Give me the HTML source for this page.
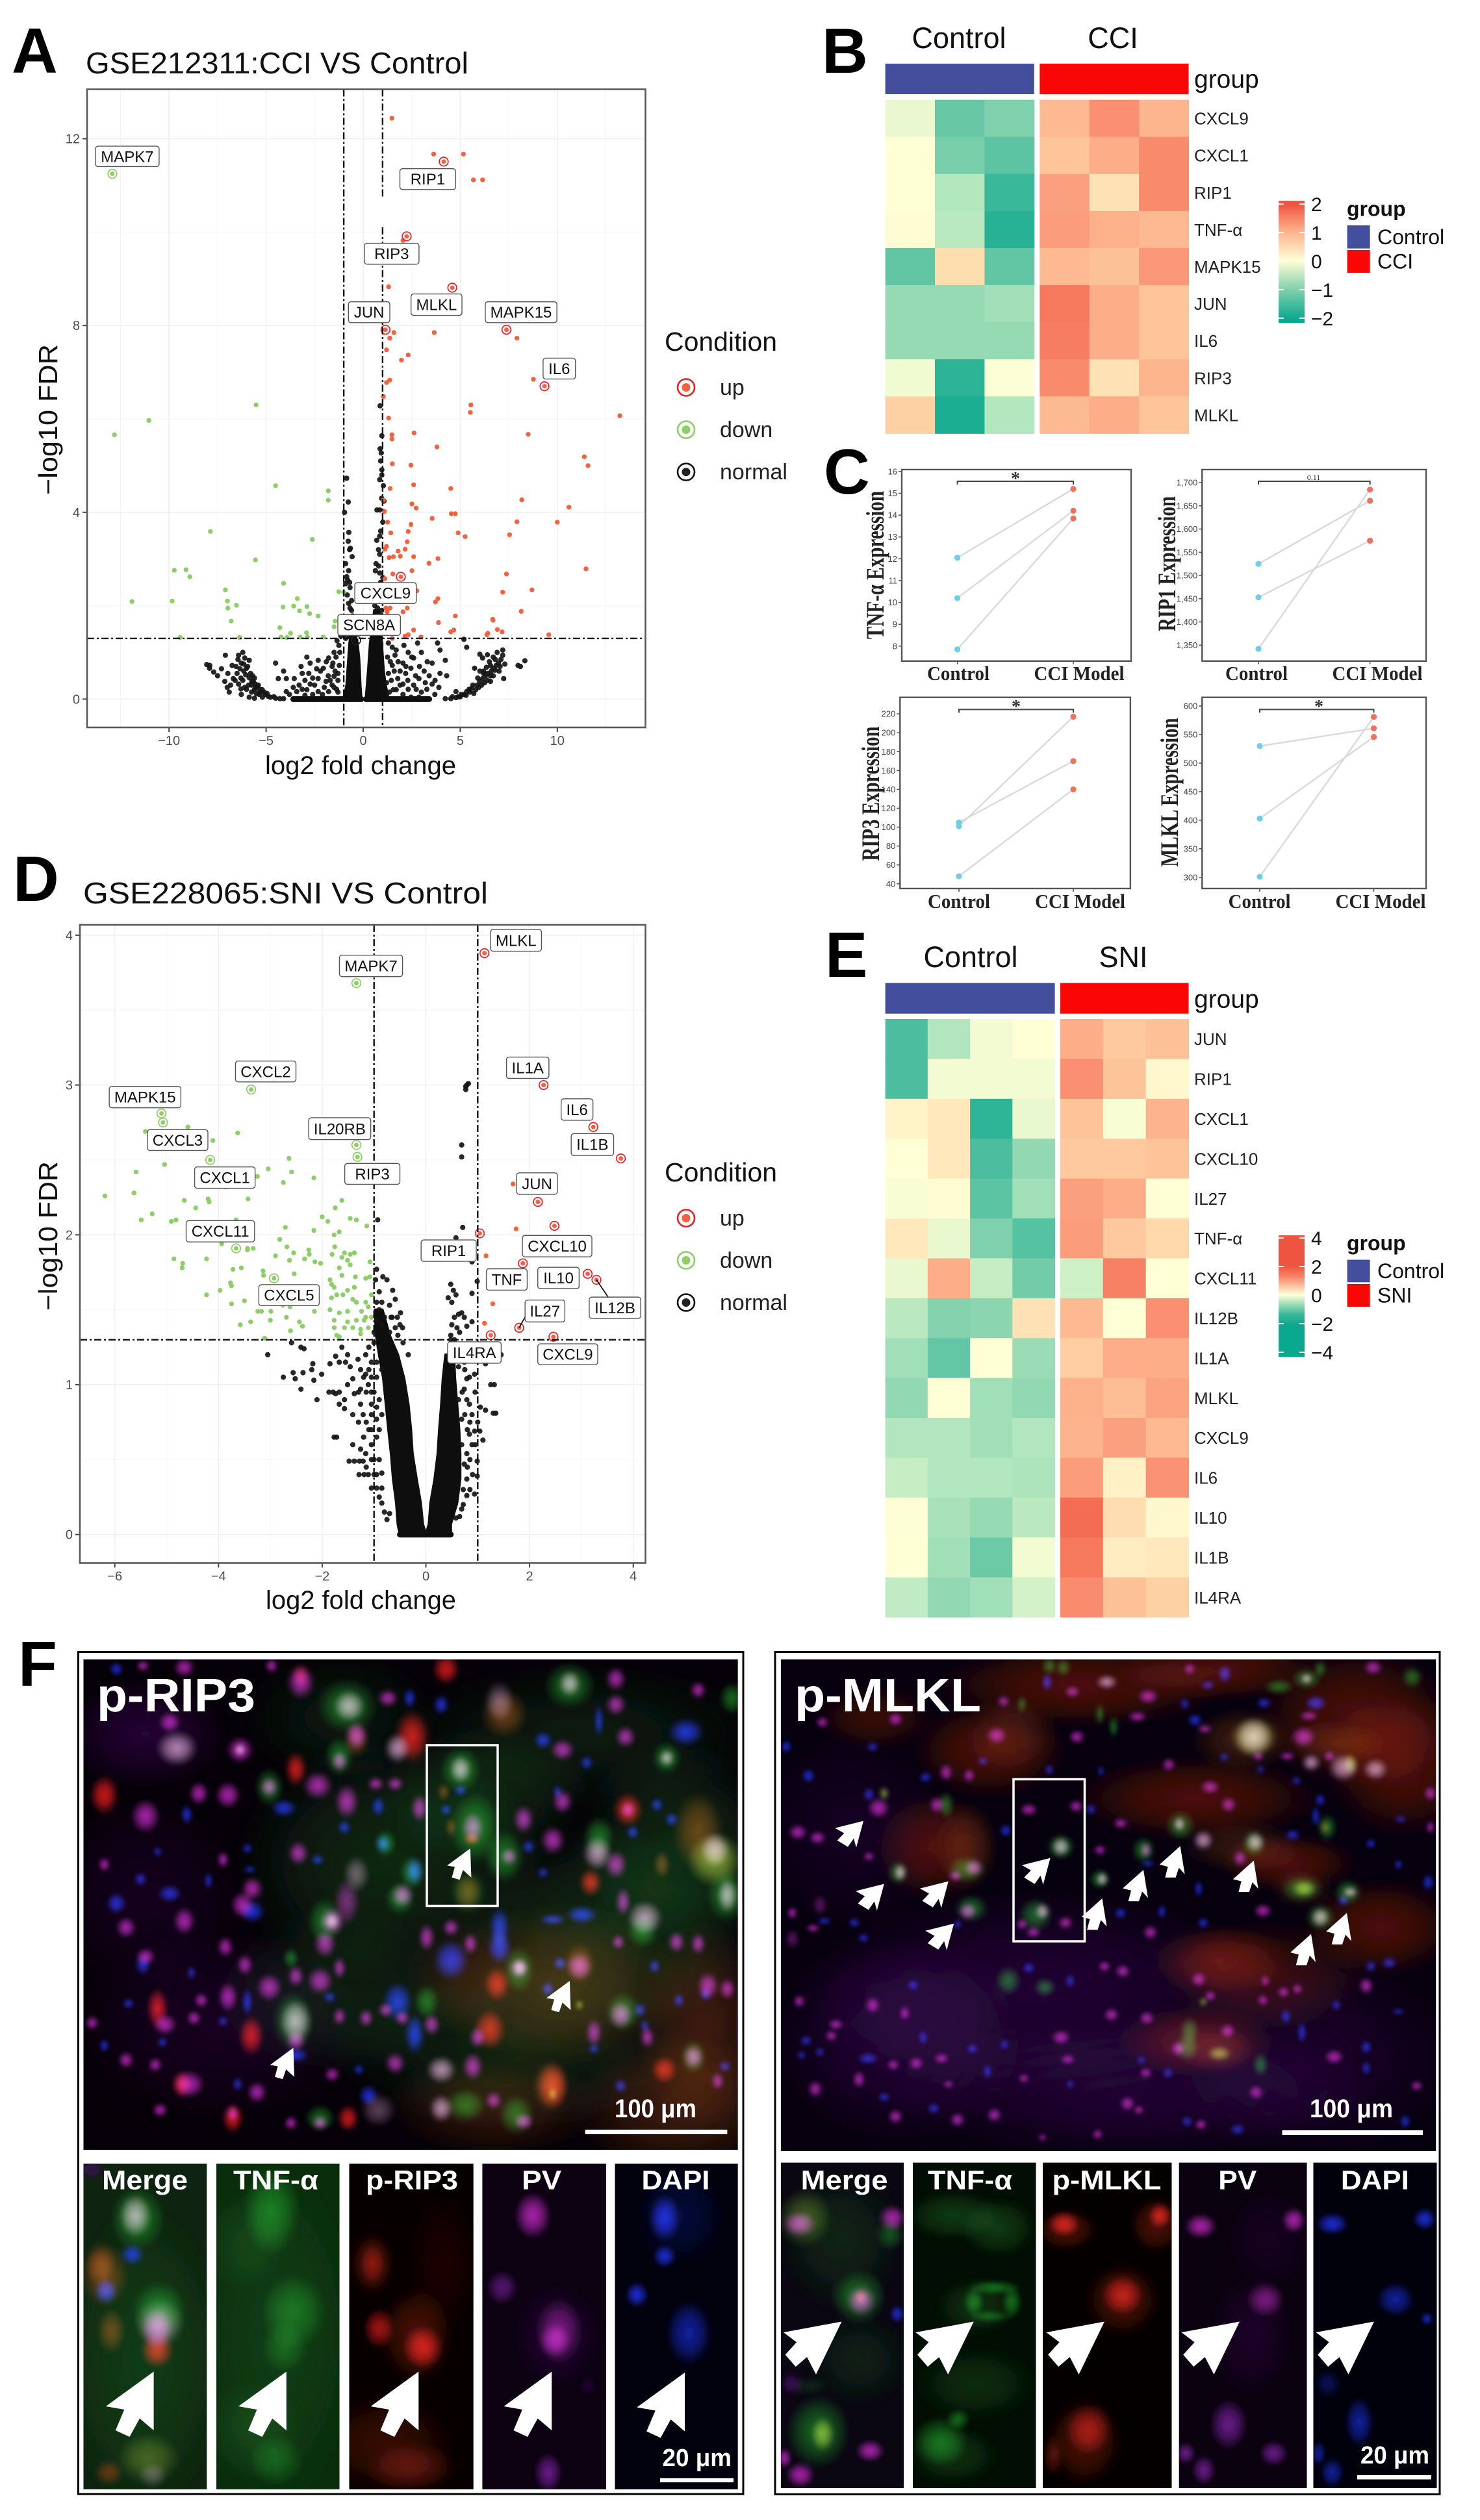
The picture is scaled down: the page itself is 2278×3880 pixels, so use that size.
<!DOCTYPE html>
<html lang="en">
<head>
<meta charset="utf-8">
<title>Volcano plots, heatmaps, paired plots and immunofluorescence</title>
<style>
html,body{margin:0;padding:0;background:#fff;}
svg{display:block;font-family:"Liberation Sans",sans-serif;}
.letter{font-weight:700;font-size:98px;fill:#000;}
.serif{font-family:"Liberation Serif",serif;font-weight:700;fill:#222;}
.wt{fill:#fff;font-weight:700;}
</style>
</head>
<body>
<svg id="fig" xmlns="http://www.w3.org/2000/svg" width="2278" height="3880" viewBox="0 0 2278 3880">
<defs id="defs"><filter id="soft" x="-5%" y="-5%" width="110%" height="110%"><feGaussianBlur stdDeviation="3"/></filter></defs>
<rect width="2278" height="3880" fill="#fff"/>

<text class="letter" x="18" y="112">A</text>
<text class="letter" x="1265" y="112">B</text>
<text class="letter" x="1268" y="760">C</text>
<text class="letter" x="20" y="1387">D</text>
<text class="letter" x="1270" y="1504">E</text>
<text class="letter" x="28" y="2596">F</text>

<text x="132" y="113" font-size="46" textLength="589" lengthAdjust="spacingAndGlyphs" fill="#111">GSE212311:CCI VS Control</text>
<text x="408" y="1192" font-size="40" textLength="294" lengthAdjust="spacingAndGlyphs" fill="#111">log2 fold change</text>
<text transform="translate(88,646) rotate(-90)" text-anchor="middle" font-size="41" textLength="232" lengthAdjust="spacingAndGlyphs" fill="#111">−log10 FDR</text>
<g>
<text x="1023" y="540" font-size="41" textLength="173" lengthAdjust="spacingAndGlyphs" fill="#111">Condition</text>
<circle cx="1056" cy="596.5" r="13" fill="none" stroke="#e8202a" stroke-width="2.6"/><circle cx="1056" cy="596.5" r="6.5" fill="#f4623f"/>
<text x="1108" y="608" font-size="34" fill="#222">up</text>
<circle cx="1056" cy="661.6" r="13" fill="none" stroke="#8ccf66" stroke-width="2.6"/><circle cx="1056" cy="661.6" r="6.5" fill="#8ccf66"/>
<text x="1108" y="673" font-size="34" fill="#222">down</text>
<circle cx="1056" cy="726.7" r="13" fill="none" stroke="#111" stroke-width="2.6"/><circle cx="1056" cy="726.7" r="6.5" fill="#222"/>
<text x="1108" y="738" font-size="34" fill="#222">normal</text>
</g>

<text x="128" y="1391" font-size="46" textLength="623" lengthAdjust="spacingAndGlyphs" fill="#111">GSE228065:SNI VS Control</text>
<text x="409" y="2477" font-size="40" textLength="293" lengthAdjust="spacingAndGlyphs" fill="#111">log2 fold change</text>
<text transform="translate(88,1903) rotate(-90)" text-anchor="middle" font-size="41" textLength="230" lengthAdjust="spacingAndGlyphs" fill="#111">−log10 FDR</text>
<g>
<text x="1023" y="1819" font-size="41" textLength="173" lengthAdjust="spacingAndGlyphs" fill="#111">Condition</text>
<circle cx="1056" cy="1875.5" r="13" fill="none" stroke="#e8202a" stroke-width="2.6"/><circle cx="1056" cy="1875.5" r="6.5" fill="#f4623f"/>
<text x="1108" y="1887" font-size="34" fill="#222">up</text>
<circle cx="1056" cy="1940.5" r="13" fill="none" stroke="#8ccf66" stroke-width="2.6"/><circle cx="1056" cy="1940.5" r="6.5" fill="#8ccf66"/>
<text x="1108" y="1952" font-size="34" fill="#222">down</text>
<circle cx="1056" cy="2005.5" r="13" fill="none" stroke="#111" stroke-width="2.6"/><circle cx="1056" cy="2005.5" r="6.5" fill="#222"/>
<text x="1108" y="2017" font-size="34" fill="#222">normal</text>
</g>

<text x="1476" y="74" text-anchor="middle" font-size="45" fill="#111">Control</text>
<text x="1713" y="74" text-anchor="middle" font-size="45" fill="#111">CCI</text>
<text x="1494" y="1489" text-anchor="middle" font-size="45" fill="#111">Control</text>
<text x="1729" y="1489" text-anchor="middle" font-size="45" fill="#111">SNI</text>

<g id="volcA"></g>
<g id="volcD"></g>
<g id="heatB"></g>
<g id="heatE"></g>
<g id="pairC"></g>

<rect x="120.5" y="2543.5" width="1023.5" height="1296.5" fill="#fff" stroke="#000" stroke-width="3"/>
<rect x="1193" y="2543.5" width="1023" height="1297" fill="#fff" stroke="#000" stroke-width="3"/>
<g id="micro"></g>
<g id="overlay">
<rect x="657" y="2687" width="109" height="247.5" fill="none" stroke="#fff" stroke-width="3.5"/>
<rect x="1560" y="2739.5" width="109.5" height="249.5" fill="none" stroke="#fff" stroke-width="3.5"/>
<text class="wt" x="149" y="2635" font-size="72" textLength="244" lengthAdjust="spacingAndGlyphs">p-RIP3</text>
<text class="wt" x="1223" y="2635" font-size="72" textLength="287" lengthAdjust="spacingAndGlyphs">p-MLKL</text>
<text class="wt" x="946" y="3260" font-size="40" textLength="126" lengthAdjust="spacingAndGlyphs">100 μm</text>
<rect x="900.7" y="3279" width="218.7" height="7" fill="#fff"/>
<text class="wt" x="2016" y="3260" font-size="40" textLength="128" lengthAdjust="spacingAndGlyphs">100 μm</text>
<rect x="1973.5" y="3280" width="216.5" height="7" fill="#fff"/>
<text class="wt" x="223" y="3371" text-anchor="middle" font-size="42" textLength="132" lengthAdjust="spacingAndGlyphs">Merge</text>
<text class="wt" x="424.5" y="3371" text-anchor="middle" font-size="42" textLength="131" lengthAdjust="spacingAndGlyphs">TNF-α</text>
<text class="wt" x="634" y="3371" text-anchor="middle" font-size="42" textLength="142" lengthAdjust="spacingAndGlyphs">p-RIP3</text>
<text class="wt" x="833.6" y="3371" text-anchor="middle" font-size="42" textLength="61" lengthAdjust="spacingAndGlyphs">PV</text>
<text class="wt" x="1040" y="3371" text-anchor="middle" font-size="42" textLength="105" lengthAdjust="spacingAndGlyphs">DAPI</text>
<text class="wt" x="1299.6" y="3371" text-anchor="middle" font-size="42" textLength="134" lengthAdjust="spacingAndGlyphs">Merge</text>
<text class="wt" x="1493" y="3371" text-anchor="middle" font-size="42" textLength="130" lengthAdjust="spacingAndGlyphs">TNF-α</text>
<text class="wt" x="1703.5" y="3371" text-anchor="middle" font-size="42" textLength="168" lengthAdjust="spacingAndGlyphs">p-MLKL</text>
<text class="wt" x="1904.8" y="3371" text-anchor="middle" font-size="42" textLength="59" lengthAdjust="spacingAndGlyphs">PV</text>
<text class="wt" x="2116.4" y="3371" text-anchor="middle" font-size="42" textLength="105" lengthAdjust="spacingAndGlyphs">DAPI</text>
<text class="wt" x="1019.5" y="3797" font-size="38" textLength="106.5" lengthAdjust="spacingAndGlyphs">20 μm</text>
<rect x="1016" y="3815.5" width="113" height="6.5" fill="#fff"/>
<text class="wt" x="2094" y="3793" font-size="38" textLength="106" lengthAdjust="spacingAndGlyphs">20 μm</text>
<rect x="2089" y="3811" width="114" height="6.5" fill="#fff"/>
</g>
</svg>

<script>
/* ---------- Panel A data: [log2FC, -log10 FDR] ---------- */
const aUp=[[1.48,12.44],[3.63,11.67],[5.16,11.67],[5.68,11.12],[6.15,11.12],[2.05,9.82],[1.31,8.83],[1.58,7.85],[1.37,7.73],[3.66,7.85],[7.92,7.73],[2.32,7.37],[1.97,7.26],[1.2,7.48],[1.37,6.83],[1.2,6.78],[8.77,6.85],[1.04,6.48],[5.55,6.3],[5.52,6.14],[13.22,6.07],[1.31,6.02],[2.62,5.7],[1.48,5.66],[1.48,5.57],[8.5,5.67],[3.8,5.4],[11.39,5.19],[11.58,5],[1.5,5.04],[2.46,5.01],[2.6,4.59],[1.39,4.51],[4.51,4.51],[1.04,4.26],[8.17,4.27],[2.51,4.18],[2.73,4.09],[10.6,4.11],[1.09,4.02],[4.54,3.97],[4.75,3.97],[3.55,3.87],[1.26,3.79],[7.92,3.8],[2.46,3.74],[10,3.79],[1.42,3.56],[4.89,3.56],[5.25,3.48],[2.32,3.59],[7.54,3.52],[1.2,3.27],[2.27,3.37],[2.16,3.21],[1.12,3.21],[1.8,3.17],[1.91,3.06],[1.56,3.05],[1.34,3.03],[2.6,3.05],[3.85,3.01],[3.39,2.91],[11.48,2.79],[2.51,2.75],[1.53,2.68],[7.38,2.68],[1.12,2.58],[8.69,2.34],[7.19,2.29],[2.76,2.32],[3.85,2.15],[3.72,2.08],[2.27,1.95],[2.05,1.87],[1.39,1.95],[1.17,1.95],[1.23,1.87],[8.14,1.88],[4.75,1.78],[6.67,1.71],[6.69,1.69],[3.88,1.64],[4.67,1.48],[4.51,1.44],[2.6,1.48],[6.91,1.49],[7.16,1.44],[6.42,1.41],[6.37,1.38],[9.56,1.38],[2.98,1.33],[2.32,1.38],[2.16,1.35],[1.5,1.3]];
const aDown=[[-5.52,6.3],[-11.04,5.97],[-12.81,5.66],[-4.51,4.57],[-1.8,4.46],[-1.8,4.26],[-7.87,3.59],[-2.62,3.42],[-5.55,2.98],[-9.73,2.76],[-9.13,2.77],[-8.93,2.62],[-4.1,2.48],[-7.1,2.34],[-1.26,2.3],[-1.01,2.29],[-6.99,2.1],[-9.84,2.1],[-11.91,2.09],[-6.53,2.01],[-6.97,1.95],[-3.39,2.15],[-3.58,1.99],[-4.13,1.97],[-3.28,1.89],[-2.9,1.98],[-2.76,1.83],[-2.32,1.78],[-6.8,1.67],[-1.45,1.67],[-1.5,1.55],[-4.29,1.53],[-3.74,1.41],[-2.92,1.42],[-4.23,1.33],[-3.93,1.32],[-3.25,1.33],[-2.87,1.33],[-2.05,1.33],[-9.43,1.32],[-6.37,1.32],[-.82,1.74]];
const aNormal=[[-.85,4.73],[-.77,4.22],[-.96,4],[-.74,3.57],[-.77,3.38],[-.66,3.23],[-.57,3.05],[-.85,2.62],[-.9,2.47],[-.68,2.39],[-.82,2.23],[-.6,2.11],[-.68,1.95],[-.55,1.78],[-.82,1.47],[-.68,1.67],[-.75,2.75],[-.8,2.55],[-.6,1.5],[-.7,1.35],[-.7,1.6],[-.5,1.55],[-.9,1.3],[-.6,1.9],[-.75,2.05],[-.7,2.5],[-.9,2.9],[-.7,3.2],
[.87,6.28],[.96,5.64],[.87,5.36],[.93,5.27],[.96,4.91],[.96,4.8],[1.04,4.57],[1.07,4.24],[.71,4.05],[.85,4.05],[1.01,3.79],[.85,3.49],[.79,3.2],[.85,3.1],[.66,2.9],[.63,2.75],[.85,2.7],[1.01,2.6],[.96,2.11],[.74,1.95],[.55,1.67],[.9,2.4],[.8,2.3],[.85,1.8],[.7,1.7],[.85,1.6],[.6,2],[.75,2.25],[.9,2.5],[.8,2.85],[.7,3.4],[.9,3.6],[.95,4.3],[.85,4.7],[.9,5.1],[.6,1.5],[.95,1.9],[.7,2.4],
[-4.51,.02],[-4.78,.04],[-5.05,.1],[-5.33,.21],[-5.55,.32],[-5.87,.46],[-6.15,.6],[-6.28,.77],[-6.42,.94],[-6.2,1],[-5.87,.83],[-6.01,.66],[-5.74,.38],[-6.01,.21],[-6.42,.32],[-6.69,.44],[-6.97,.55],[-7.1,.94],[-6.75,.72],[-7.13,.38],[-6.83,.3],[-8.06,.74],[-7.92,.66],[-7.7,.58],[-6.28,.1],[-5.87,.04],[-5.6,.02],[-4.1,.01],[-4.29,.01],[-5.19,.04],[-5.46,.27],[-5.66,.38],[-5.8,.55],[-5.95,.7],[-6.1,.88],[-5.3,.15],[-5.6,.2],[-5.9,.3],[-6.2,.4],[-6.5,.55],[-4.9,.06],[-5.1,.15],[-5.4,.3],[-5.7,.5],[-4.6,.05],[-4.95,.12],[-5.2,.2],[-5.35,.1],[-5.5,.12],[-5.75,.15],[-5.55,.25],[-5.75,.3],[-5.6,.45],[-6.1,.25],[-6.3,.22],[-6.3,.45],[-6.05,.52],[-6.6,.4],[-6.35,.65],[-6.55,.7],[-6.15,.75],[-6.45,.85],[-7,.25],[-7.5,.5],[-7.3,.65],[-7.9,.72],[-6.9,.15],
[4.23,.01],[4.51,.01],[4.78,.03],[5.05,.1],[5.33,.16],[5.6,.23],[5.87,.3],[6.15,.44],[6.42,.55],[6.69,.66],[6.97,.77],[7.19,.94],[7.19,1.05],[6.56,.72],[6.2,.55],[6.01,.6],[5.74,.66],[6.15,.88],[6.01,.96],[6.56,.38],[7.24,.44],[7.98,.72],[8.33,.82],[5.46,.21],[4.78,.16],[5.19,1.28],[5.33,1.11],[3.83,1.2],[3.96,1.05],[4.23,.83],[3.55,.77],[5.2,.1],[5.5,.15],[5.8,.2],[6.1,.3],[6.4,.4],[6.7,.5],[7,.6],[5.9,.45],[6.2,.6],[6.5,.8],[6.8,.85],[4.9,.05],[4.6,.05],[5,.05],[5.3,.08],[5.5,.2],[5.7,.12],[5.65,.3],[5.95,.25],[6,.38],[6.25,.35],[6.3,.5],[6.55,.5],[6.6,.6],[6.35,.68],[6.8,.62],[6.85,.72],[7.05,.7],[7.1,.85],[6.7,.9],[6.4,.95],[6.9,1],[7.3,.75],[8.1,.7],
[-4.51,.77],[-4.37,.44],[-3.96,.44],[-3.55,.44],[-3.14,.55],[-2.73,.77],[-2.32,.83],[-2.05,.66],[-1.78,.88],[-1.5,1],[-1.56,.77],[-2.32,.44],[-1.91,.38],[-1.5,.49],[-1.23,.72],[-2.73,.32],[-3.14,.21],[-3.42,.16],[-3.96,.16],[-2.32,.16],[-1.78,.16],[-1.37,.21],[-1.6,.3],[-1.3,.4],[-1.45,.6],[-2.6,.1],[-3,.08],[-1.2,1],[-3.3,.3],[-3,.4],[-2.8,.55],[-2.5,.3],[-2.2,.6],[-2,.25],[-1.8,.5],[-1.6,.7],[-1.4,.9],[-1.3,.55],[-1.9,.8],[-2.4,.65],[-2.6,.45],[-3.6,.25],[-3.8,.1],[-2.9,.2],[-2.1,.1],[-1.5,.25],[-1.3,.15],[-1.7,.4],[-3.2,.7],[-2.9,.9],[-4.1,.6],[-1.25,1.15],[-1.35,1.25],[-1.15,1.35],
[2.32,1],[2.6,.88],[2.46,.66],[2.05,.77],[1.64,.94],[1.5,1.11],[2.19,.55],[2.87,.44],[3.14,.6],[3.55,.32],[3.96,.55],[3.28,.21],[2.73,.21],[2.05,.32],[2.32,.21],[1.78,.44],[3,1],[1.5,.72],[3.69,.1],[2.87,.04],[2.05,.1],[2.46,.04],[1.7,.2],[1.9,.6],[2.3,.4],[1.3,1.2],[1.25,.9],[1.4,.8],[1.6,.6],[1.8,.8],[1.9,.3],[2.2,.7],[2.5,.9],[2.7,.5],[2.9,.7],[3.2,.35],[3.4,.5],[3.7,.4],[3.9,.25],[3,.15],[2.6,.3],[1.45,.4],[1.55,.2],[1.3,.55],[1.7,1.05],[2.1,1.15],[2.8,1.2],[4.3,.5],[3.3,.8],[1.2,.35],[1.35,.15]];
const aLabeledUp=[['RIP1',4.15,11.51],['RIP3',2.24,9.91],['MLKL',4.59,8.81],['JUN',1.15,7.91],['MAPK15',7.38,7.91],['IL6',9.34,6.7],['CXCL9',1.94,2.62]];
const aLabeledDown=[['MAPK7',-12.92,11.25]];
const aLabeledNormal=[['SCN8A',-.36,1.26]];
const aDenseLevels=[0,.3,.6,.9,1.2,1.5];
const aDenseLeftOuter=[-1,-.85,-.8,-.75,-.7,-.6];
const aDenseLeftInner=[-.1,-.15,-.18,-.22,-.3,-.48];
const aDenseRightLevels=[0,.3,.6,.9,1.2,1.5,1.9];
const aDenseRightInner=[.14,.2,.26,.31,.36,.46,.58];
const aDenseRightOuter=[1.3,1.15,1.05,1,.95,.92,.8];
const aBaseRanges=[[-3.6,-.1],[.15,3.4]];
const aXTicks=[-10,-5,0,5,10];
const aYTicks=[0,4,8,12];
const aXMinor=[-12.5,-7.5,-2.5,2.5,7.5,12.5];
const aYMinor=[2,6,10];
const aCutoffX=[-1,1];
const aCutoffY=1.3;
const aLabelLayout=[['MAPK7',180,300,280,319],['RIP1',754,859,323,363],['RIP3',687,790,466,506],['MLKL',775,871,563,604],['JUN',657,735,578,618],['MAPK15',915,1050,578,618],['IL6',1024,1085,686,726],['CXCL9',669,785,1116,1156],['SCN8A',637,755,1177,1217]];

/* ---------- Panel D data ---------- */
const dUp=[[1.68,2.34],[1.74,2.04],[1.16,1.86],[1.29,1.54],[1.13,1.41]];
const dDown=[[-5.41,2.69],[-4.59,2.72],[-3.63,2.68],[-4.11,2.63],[-2.64,2.51],[-5.04,2.47],[-3.04,2.44],[-2.59,2.42],[-5.59,2.42],[-2.16,2.38],[-2.75,2.35],[-3.25,2.39],[-3.87,2.32],[-5.63,2.28],[-6.19,2.26],[-4.2,2.24],[-3.43,2.24],[-4.66,2.23],[-4.18,2.22],[-1.62,2.23],[-4.44,2.18],[-5.28,2.14],[-1.75,2.18],[-2,2.12],[-4.82,2.1],[-4.91,2.09],[-5.49,2.1],[-1.46,2.11],[-1.34,2.1],[-1.89,2.09],[-2.71,2.05],[-2.16,2.03],[-1.14,2.06],[-1.67,2.02],[-3.66,2.1],[-3.94,1.94],[-2.82,1.97],[-1.77,2],[-3.33,1.91],[-3.44,1.91],[-3.44,1.9],[-2.68,1.92],[-2.26,1.9],[-1.76,1.92],[-4.86,1.84],[-4.23,1.84],[-4.69,1.81],[-4.7,1.78],[-2.55,1.88],[-2.9,1.86],[-2.25,1.87],[-2.34,1.84],[-2.63,1.83],[-2.03,1.81],[-2.14,1.82],[-1.81,1.87],[-1.57,1.88],[-1.46,1.87],[-1.38,1.88],[-1.62,1.85],[-1.51,1.83],[-1.46,1.8],[-1.08,1.82],[-3.72,1.77],[-3.56,1.78],[-3.14,1.76],[-3.13,1.73],[-2.54,1.74],[-1.67,1.78],[-1.36,1.72],[-1.16,1.71],[-1.08,1.72],[-3.77,1.68],[-3.75,1.66],[-1.85,1.7],[-1.82,1.67],[-1.77,1.65],[-1.62,1.73],[-1.38,1.65],[-1.51,1.63],[-1.6,1.6],[-3.97,1.63],[-4.23,1.6],[-3.75,1.54],[-3.5,1.56],[-2.76,1.53],[-2.62,1.52],[-2.18,1.57],[-1.82,1.58],[-1.72,1.6],[-1.41,1.57],[-1.34,1.55],[-1.16,1.55],[-1.05,1.6],[-1.11,1.52],[-3.24,1.49],[-3.17,1.49],[-2.99,1.49],[-2.15,1.49],[-1.85,1.5],[-1.67,1.48],[-1.51,1.49],[-1.24,1.49],[-1.16,1.45],[-1.05,1.45],[-3,1.43],[-2.69,1.45],[-2.44,1.42],[-2.38,1.39],[-1.77,1.43],[-1.51,1.42],[-1.34,1.43],[-1.19,1.43],[-3.58,1.4],[-3.38,1.42],[-2.61,1.36],[-1.77,1.38],[-1.57,1.38],[-1.41,1.38],[-1.26,1.37],[-1.11,1.38],[-1.72,1.33],[-1.67,1.32],[-1.26,1.34],[-3.11,1.31]];
const dNormal=[[.82,3.01],[.77,2.99],[.79,3],[.77,2.97],[.69,2.6],[.69,2.52],[-.93,2.1],[.71,2.05],[.58,1.98],[.89,1.82],[-.95,1.77],[-.83,1.72],[-.97,1.7],[-.9,1.62],[.48,1.67],[.53,1.63],[.58,1.6],[.43,1.58],[.5,1.55],[.89,1.61],[.63,1.47],[.69,1.48],[.74,1.45],[.89,1.42],[.79,1.39],[.48,1.33],[.48,1.3],[1.45,1.2],[.99,1.69],
[-.64,1.63],[-.59,1.57],[-.7,1.53],[-.49,1.48],[-.8,1.45],[-.67,1.45],[-.95,1.43],[-.85,1.4],[-.59,1.38],[-.7,1.35],[-.54,1.33],[-.44,1.28],[-.34,1.2],
[-3.05,1.2],[-2.59,1.28],[-2.41,1.25],[-2.35,1.24],[-2.75,1.05],[-2.56,1.08],[-2.37,1.08],[-2.52,1.04],[-2.18,1.14],[-2.2,1.1],[-2.16,1.03],[-2.41,.97],[-2.1,.9],[-1.87,.95],[-1.79,.95],[-1.74,.94],[-1.57,.9],[-2.01,1.07],[-1.85,1.14],[-1.74,1.19],[-1.62,1.25],[-1.51,1.2],[-1.67,1.15],[-1.55,1.15],[-1.46,1.12],[-1.31,1.17],[-1.16,1.2],[-1.26,1.1],[-1.16,1.07],[-1.41,1.04],[-1.67,.95],[-1.51,1],[-1.38,.94],[-1.26,.97],[-1.11,1],[-1.57,.84],[-1.41,.8],[-1.67,.87],[-1.26,.87],[-1.21,.8],[-1.05,.87],[-1.77,.65],[-1.72,.65],[-1.41,.6],[-1.26,.57],[-1.16,.54],[-1.48,.49],[-1.38,.49],[-1.28,.49],[-1.21,.49],[-1.29,.4],[-1.19,.4],[-1.11,.4],[-1.05,.31],[-.95,.31],[-.85,.31],[-.85,.41],[-1.05,.6],[-1.05,.7],[-.95,.77],[-1.05,.8],[-.85,.21],[-.7,.14],[-1,.95],[-.95,1.05],[-1.05,1.15],[-1,1.28],[-.95,.65],[-.9,.5],[-1,.5],[-.9,.9],[-.85,1.1],[-1.1,1.25],[-1.3,.75],[-1.15,.95],[-1.2,1.05],[-1.05,1.05],[-1.1,.7],[-1.2,.65],[-1.15,.45],[-1,.4],[-.95,.4],[-1.05,.5],[-.9,.25],[-.75,.1],[-.8,.15],[-.9,.7],[-.95,.85],[-1.3,.95],[-1.05,.95],[-.95,1.15],[-1.1,1.1],[-1.15,.75],[-.85,.8],[-1,1.35],[-.95,1.55],[-.9,1.5],[-.85,1.55],[-.75,1.7],[-.65,1.45],[-.55,1.45],[-.5,1.4],[-.45,1.38],[-.9,1.25],
[.79,1.04],[.74,.97],[.63,.9],[.79,.9],[.84,.87],[.69,.77],[1.15,.83],[1.3,.81],[1.35,.81],[1.25,1],[1.32,1],[.94,1.07],[1.15,1.14],[.84,1.05],[.63,1.12],[.74,1.15],[.89,.8],[.94,.69],[1.04,.69],[1.1,.63],[.99,.49],[.99,.39],[.94,.27],[.79,.37],[.79,.26],[.69,.17],[.58,.11],[.69,.6],[.79,.54],[.74,.47],[.89,.6],[.84,.67],[.72,.3],[.8,.45],[.85,.5],[.9,.4],[.75,.8],[.8,.7],[.85,.75],[.95,.6],[.7,.95],[.75,1.1],[.68,1.2],[.62,1.25],[.55,1.3],[.6,1.38],[.65,1.35],[.72,.2],[.65,.12],[.85,.3],[1,.75],[1.05,.85],[.95,.95],[.85,1.2],[.55,1.45],[.5,1.4]];
const dLabeledUp=[['MLKL',1.13,3.88],['IL1A',2.27,3],['IL6',3.23,2.72],['IL1B',3.76,2.51],['JUN',2.16,2.22],['CXCL10',2.48,2.06],['RIP1',1.04,2.01],['TNF',1.87,1.81],['IL10',3.12,1.74],['IL12B',3.29,1.7],['IL27',1.8,1.38],['IL4RA',1.25,1.33],['CXCL9',2.46,1.32]];
const dLabeledDown=[['MAPK7',-1.34,3.68],['CXCL2',-3.37,2.97],['MAPK15',-5.1,2.81],['CXCL3',-5.07,2.75],['CXCL1',-4.16,2.5],['IL20RB',-1.34,2.6],['RIP3',-1.32,2.52],['CXCL11',-3.66,1.91],['CXCL5',-2.93,1.71]];
const dDenseLevels=[0,.07,.21,.37,.54,.7,.87,1.04,1.2,1.33,1.5];
const dDenseLeftOuter=[-.5,-.54,-.57,-.63,-.67,-.72,-.77,-.82,-.9,-.96,-.98];
const dDenseLeftInner=[0,-.06,-.1,-.18,-.26,-.29,-.34,-.42,-.54,-.7,-.84];
const dDenseRightLevels=[0,.07,.21,.37,.54,.7,.87,1.04,1.2];
const dDenseRightInner=[0,.06,.09,.17,.23,.26,.3,.33,.38];
const dDenseRightOuter=[.48,.48,.6,.66,.66,.64,.6,.56,.54];
const dBaseRanges=[[-.5,.48]];
const dXTicks=[-6,-4,-2,0,2,4];
const dYTicks=[0,1,2,3,4];
const dXMinor=[-5,-3,-1,1,3];
const dYMinor=[.5,1.5,2.5,3.5];
const dCutoffX=[-1,1];
const dCutoffY=1.3;
const dLabelLayout=[['MLKL',925,1021,145,189],['MAPK7',640,759,197,240],['IL1A',955,1035,402,445],['CXCL2',444,558,410,452],['MAPK15',206,341,461,504],['IL6',1058,1118,486,529],['CXCL3',278,392,548,590],['IL20RB',582,699,524,568],['IL1B',1077,1157,556,600],['RIP3',650,754,616,658],['CXCL1',367,481,623,666],['JUN',974,1051,635,678],['CXCL11',351,480,731,774],['CXCL10',985,1116,761,804],['RIP1',794,898,770,813],['TNF',917,994,828,871],['IL10',1014,1092,825,868],['IL12B',1111,1208,885,928],['CXCL5',488,602,860,902],['IL27',990,1065,891,935],['IL4RA',844,945,975,1018],['CXCL9',1014,1127,979,1021]];

/* ---------- Heatmap data ---------- */
const bGenes=['CXCL9','CXCL1','RIP1','TNF-α','MAPK15','JUN','IL6','RIP3','MLKL'];
const bControl=[[-.15,-1.2,-1],[0,-1.05,-1.3],[0,-.55,-1.6],[.05,-.5,-1.75],[-1.25,.45,-1.25],[-.8,-.8,-.7],[-.8,-.8,-.8],[-.1,-1.7,-.02],[.6,-1.85,-.55]];
const bCCI=[[.9,1.4,.95],[.75,1.05,1.45],[1.2,.4,1.45],[1.25,1,.9],[.9,.8,1.3],[1.65,1.05,.75],[1.6,1.05,.75],[1.45,.4,.95],[.9,1.05,.75]];
const bLegendTicks=[2,1,0,-1,-2];
const eGenes=['JUN','RIP1','CXCL1','CXCL10','IL27','TNF-α','CXCL11','IL12B','IL1A','MLKL','CXCL9','IL6','IL10','IL1B','IL4RA'];
const eControl=[[-1.8,-.7,-.12,0],[-1.8,-.12,-.12,-.12],[.2,.38,-2.12,-.2],[0,.38,-1.8,-1.05],[-.06,.06,-1.62,-.88],[.38,-.2,-1.25,-1.7],[-.2,1.3,-.5,-1.38],[-.62,-1.2,-1.12,.5],[-.88,-1.55,.02,-.95],[-1.05,0,-.88,-1.05],[-.7,-.7,-.88,-.7],[-.5,-.7,-.7,-.75],[-.02,-.8,-1,-.62],[0,-.88,-1.45,-.12],[-.55,-1.05,-.88,-.38]];
const eSNI=[[1.3,.88,1],[1.75,.95,.12],[.95,-.06,1.2],[.88,.88,.95],[1.5,1.3,.02],[1.55,.88,.62],[-.44,1.95,0],[1.12,0,1.75],[.8,1.3,1.3],[1.25,1.05,1.45],[1.2,1.5,1.12],[1.55,.25,1.7],[2.2,.55,.12],[2.05,.3,.38],[1.8,1,.75]];
const eLegendTicks=[4,2,0,-2,-4];

/* ---------- Paired plot data ---------- */
const cCategories=['Control','CCI Model'];
const cTnfControl=[12.05,10.2,7.85];
const cTnfModel=[15.2,14.2,13.85];
const cTnfTicks=[8,9,10,11,12,13,14,15,16];
const cTnfTickLabels=['8','9','10','11','12','13','14','15','16'];
const cRip1Control=[1342,1525,1453];
const cRip1Model=[1685,1661,1575];
const cRip1Ticks=[1350,1400,1450,1500,1550,1600,1650,1700];
const cRip1TickLabels=['1,350','1,400','1,450','1,500','1,550','1,600','1,650','1,700'];
const cRip3Control=[101,105,48];
const cRip3Model=[217,170,140];
const cRip3Ticks=[40,60,80,100,120,140,160,180,200,220];
const cRip3TickLabels=['40','60','80','100','120','140','160','180','200','220'];
const cMlklControl=[530,403,301];
const cMlklModel=[561,546,581];
const cMlklTicks=[300,350,400,450,500,550,600];
const cMlklTickLabels=['300','350','400','450','500','550','600'];

/* ---------- helpers ---------- */
const NS='http://www.w3.org/2000/svg';
function mk(tag,attrs,parent,text){
  const e=document.createElementNS(NS,tag);
  for(const k in attrs)e.setAttribute(k,attrs[k]);
  if(text!==undefined)e.textContent=text;
  parent.appendChild(e);
  return e;
}
function slug(s){return String(s).toLowerCase().replace(/[^a-z0-9]+/g,'-');}

/* ---------- Volcano ---------- */
function drawVolcano(g,c){
  const X=v=>c.x0+(v-c.xv0)*c.xk;
  const Y=v=>c.y0-(v)*c.yk;
  const bg=mk('rect',{x:c.left,y:c.top,width:c.right-c.left,height:c.bottom-c.top,fill:'#fff'},g);
  
  
  c.xMinor.forEach(v=>{
    const l=mk('line',{x1:X(v),x2:X(v),y1:c.top,y2:c.bottom,stroke:'#f6f6f6','stroke-width':1},g);
    
    
  });
  c.yMinor.forEach(v=>{
    const l=mk('line',{y1:Y(v),y2:Y(v),x1:c.left,x2:c.right,stroke:'#f6f6f6','stroke-width':1},g);
    
    
  });
  c.xTicks.forEach(v=>{
    const l=mk('line',{x1:X(v),x2:X(v),y1:c.top,y2:c.bottom,stroke:'#efefef','stroke-width':1.5},g);
    
    
    const t=mk('line',{x1:X(v),x2:X(v),y1:c.bottom,y2:c.bottom+7,stroke:'#444','stroke-width':2},g);
    
    
    const s=mk('text',{x:X(v),y:c.bottom+27,'text-anchor':'middle','font-size':20,fill:'#4d4d4d'},g,(v<0?'−':'')+Math.abs(v));
    
    
  });
  c.yTicks.forEach(v=>{
    const l=mk('line',{y1:Y(v),y2:Y(v),x1:c.left,x2:c.right,stroke:'#efefef','stroke-width':1.5},g);
    
    
    const t=mk('line',{y1:Y(v),y2:Y(v),x1:c.left-7,x2:c.left,stroke:'#444','stroke-width':2},g);
    
    
    const s=mk('text',{x:c.left-11,y:Y(v)+7,'text-anchor':'end','font-size':20,fill:'#4d4d4d'},g,String(v));
    
    
  });
  /* dense regions */
  function band(levels,outer,inner){
    let d='';
    levels.forEach((v,i)=>{d+=(i?'L':'M')+X(outer[i]).toFixed(1)+' '+Y(v).toFixed(1);});
    for(let i=levels.length-1;i>=0;i--){d+='L'+X(inner[i]).toFixed(1)+' '+Y(levels[i]).toFixed(1);}
    const p=mk('path',{d:d+'Z',fill:'#0e0e0e',stroke:'#0e0e0e','stroke-width':4,'stroke-linejoin':'round'},g);
    
    
  }
  band(c.denseLevels,c.denseLO,c.denseLI);
  band(c.denseRLevels,c.denseRI,c.denseRO);
  c.base.forEach(r=>{
    const l=mk('line',{x1:X(r[0]),x2:X(r[1]),y1:Y(0),y2:Y(0),stroke:'#0e0e0e','stroke-width':9,'stroke-linecap':'round'},g);
    
    
  });
  function dots(list,color,name,r,op){
    list.forEach(p=>{
      const e=mk('circle',{cx:X(p[0]).toFixed(1),cy:Y(p[1]).toFixed(1),r:r,fill:color,opacity:op},g);
      
      
    });
  }
  dots(c.normal,'#151515','point-normal',4.1,.92);
  dots(c.down,'#8ccf66','point-down',3.7,1);
  dots(c.up,'#f4623f','point-up',3.7,1);
  function rings(list,color,dot,name){
    list.forEach(p=>{
      const a=mk('circle',{cx:X(p[1]),cy:Y(p[2]),r:3.5,fill:dot},g);
      
      
      const b=mk('circle',{cx:X(p[1]),cy:Y(p[2]),r:6.8,fill:'none',stroke:color,'stroke-width':1.7},g);
      
      
    });
  }
  rings(c.lNormal,'#222','#111','point-labelled-normal');
  rings(c.lDown,'#8ccf66','#8ccf66','point-labelled-down');
  rings(c.lUp,'#e8202a','#f4623f','point-labelled-up');
  /* cut-offs */
  c.cutX.forEach(v=>{
    if(c.gap&&c.gap[0]===v){
      [[c.top,c.gap[1]],[c.gap[2],c.bottom]].forEach(s=>{
        const l=mk('line',{x1:X(v),x2:X(v),y1:s[0],y2:s[1],stroke:'#111','stroke-width':2.4,'stroke-dasharray':'11 4 3 4'},g);
        
        
      });
    } else {
      const l=mk('line',{x1:X(v),x2:X(v),y1:c.top,y2:c.bottom,stroke:'#111','stroke-width':2.4,'stroke-dasharray':'11 4 3 4'},g);
      
      
    }
  });
  const h=mk('line',{x1:c.left,x2:c.right,y1:Y(c.cutY),y2:Y(c.cutY),stroke:'#111','stroke-width':2.4,'stroke-dasharray':'11 4 3 4'},g);
  
  
  /* connectors */
  (c.connect||[]).forEach(k=>{
    const l=mk('line',{x1:X(k[0]),y1:Y(k[1]),x2:k[2],y2:k[3],stroke:'#111','stroke-width':1.8},g);
    
    
  });
  /* labels */
  c.labels.forEach(b=>{
    const x0=b[1]/c.sx,x1=b[2]/c.sx,y0=c.oy+b[3]/c.sy,y1=c.oy+b[4]/c.sy;
    const r=mk('rect',{x:x0,y:y0,width:x1-x0,height:y1-y0,rx:4,fill:'#fff',stroke:'#555','stroke-width':1.4},g);
    
    
    const t=mk('text',{x:(x0+x1)/2,y:(y0+y1)/2+8.5,'text-anchor':'middle','font-size':24,fill:'#111'},g,b[0]);
    
    
  });
  const box=mk('rect',{x:c.left,y:c.top,width:c.right-c.left,height:c.bottom-c.top,fill:'none',stroke:'#5a5a5a','stroke-width':2.6},g);
  
  
}
drawVolcano(document.getElementById('volcA'),{
  left:134,right:993.5,top:137.5,bottom:1120,x0:559,xv0:0,xk:29.88,y0:1076.4,yk:71.9,
  xTicks:aXTicks,yTicks:aYTicks,xMinor:aXMinor,yMinor:aYMinor,
  up:aUp,down:aDown,normal:aNormal,lUp:aLabeledUp,lDown:aLabeledDown,lNormal:aLabeledNormal,
  denseLevels:aDenseLevels,denseLO:aDenseLeftOuter,denseLI:aDenseLeftInner,
  denseRLevels:aDenseRightLevels,denseRI:aDenseRightInner,denseRO:aDenseRightOuter,base:aBaseRanges,
  cutX:aCutoffX,cutY:aCutoffY,gap:[1,305,350],labels:aLabelLayout,sx:1.225,sy:1.244,oy:0
});
drawVolcano(document.getElementById('volcD'),{
  left:123,right:993.5,top:1424,bottom:2406.5,x0:655.5,xv0:0,xk:79.8,y0:2362.7,yk:230.7,
  xTicks:dXTicks,yTicks:dYTicks,xMinor:dXMinor,yMinor:dYMinor,
  up:dUp,down:dDown,normal:dNormal,lUp:dLabeledUp,lDown:dLabeledDown,lNormal:[],
  denseLevels:dDenseLevels,denseLO:dDenseLeftOuter,denseLI:dDenseLeftInner,
  denseRLevels:dDenseRightLevels,denseRI:dDenseRightInner,denseRO:dDenseRightOuter,base:dBaseRanges,
  cutX:dCutoffX,cutY:dCutoffY,labels:dLabelLayout,sx:1.225,sy:1.307,oy:1320,
  connect:[[1.8,1.38,808,2028],[3.29,1.7,936,1997]]
});

/* ---------- Heatmaps ---------- */
const scaleStops=[[-2,[10,168,142]],[-1,[127,208,172]],[-.5,[185,233,192]],[0,[255,255,214]],[.5,[254,217,171]],[1,[253,177,139]],[1.5,[249,135,106]],[2,[238,85,64]]];
function colorFor(t){
  t=Math.max(-2,Math.min(2,t));
  for(let i=1;i<scaleStops.length;i++){
    if(t<=scaleStops[i][0]){
      const a=scaleStops[i-1],b=scaleStops[i],f=(t-a[0])/(b[0]-a[0]);
      const c=a[1].map((v,j)=>Math.round(v+(b[1][j]-v)*f));
      return 'rgb('+c.join(',')+')';
    }
  }
  return 'rgb(238,85,64)';
}
function drawHeat(g,c){
  const rowH=(c.bottom-c.top)/c.genes.length;
  function annot(x0,x1,col,name){
    const r=mk('rect',{x:x0,y:c.annTop,width:x1-x0,height:c.annBottom-c.annTop,fill:col},g);
    
    
  }
  annot(c.ax0,c.ax1,'#434f9c','group-bar-control');
  annot(c.bx0,c.bx1,'#fb0606',c.groupNameB);
  function cells(data,x0,x1,name){
    data.forEach((row,i)=>{
      const w=(x1-x0)/row.length;
      row.forEach((v,j)=>{
        const r=mk('rect',{x:(x0+j*w).toFixed(1),y:(c.top+i*rowH).toFixed(1),width:(w+.5).toFixed(1),height:(rowH+.5).toFixed(1),fill:colorFor(v/c.scale)},g);
        
        
      });
    });
  }
  cells(c.dataA,c.ax0,c.ax1,'control');
  cells(c.dataB,c.bx0,c.bx1,'treated');
  c.genes.forEach((n,i)=>{
    const cy=c.top+(i+.5)*rowH;
    const t=mk('text',{x:1838,y:cy+9.5,'font-size':26,fill:'#222'},g,n);
    
    
  });
  const gl=mk('text',{x:1838,y:c.groupY,'font-size':39,fill:'#111'},g,'group');
  
  
  /* color bar */
  const id='cb'+c.id;
  const lg=mk('linearGradient',{id:id,x1:0,y1:0,x2:0,y2:1},document.getElementById('defs'));
  const vals=c.cbStops;
  vals.forEach(s=>{mk('stop',{offset:s[0],'stop-color':colorFor(s[1])},lg);});
  const cb=mk('rect',{x:1968,y:c.cbTop,width:40,height:c.cbBottom-c.cbTop,fill:'url(#'+id+')'},g);
  
  
  c.ticks.forEach((v,i)=>{
    const y=c.tickY(v);
    const a=mk('line',{x1:1968,x2:1976,y1:y,y2:y,stroke:'#fff','stroke-width':2},g);
    
    
    const b=mk('line',{x1:2000,x2:2008,y1:y,y2:y,stroke:'#fff','stroke-width':2},g);
    
    
    const t=mk('text',{x:2018,y:y+11,'font-size':30,fill:'#111'},g,(v<0?'−':'')+Math.abs(v));
    
    
  });
  const lt=mk('text',{x:2073,y:c.legY,'font-size':32,'font-weight':700,fill:'#111'},g,'group');
  
  
  c.legend.forEach(l=>{
    const r=mk('rect',{x:2073.6,y:l[1],width:35,height:l[2]-l[1],fill:l[3]},g);
    
    
    const t=mk('text',{x:2120,y:(l[1]+l[2])/2+11,'font-size':32,fill:'#111'},g,l[0]);
    
    
  });
}
drawHeat(document.getElementById('heatB'),{
  id:'B',genes:bGenes,dataA:bControl,dataB:bCCI,scale:1,ax0:1362.6,ax1:1591.8,bx0:1600.3,bx1:1829.5,
  annTop:98,annBottom:145,top:153.6,bottom:667.4,groupY:135,groupNameB:'group-bar-cci',
  cbTop:309,cbBottom:497,cbStops:[[0,2],[.03,2],[.25,1],[.49,0],[.73,-1],[.97,-2],[1,-2]],
  ticks:bLegendTicks,tickY:v=>402-v*43.9,legY:332.6,
  legend:[['Control',347,382.6,'#434f9c'],['CCI',385,420,'#fb0606']]
});
drawHeat(document.getElementById('heatE'),{
  id:'E',genes:eGenes,dataA:eControl,dataB:eSNI,scale:1.25,ax0:1362.6,ax1:1623.6,bx0:1632,bx1:1829.5,
  annTop:1513.4,annBottom:1560.7,top:1569,bottom:2490,groupY:1551.7,groupNameB:'group-bar-sni',
  cbTop:1902,cbBottom:2089,cbStops:[[0,2],[.25,2],[.33,1.6],[.49,0],[.65,-1.6],[.74,-2],[1,-2]],
  ticks:eLegendTicks,tickY:v=>1994-v*22,legY:1925,
  legend:[['Control',1939.6,1974.3,'#434f9c'],['SNI',1977,2012,'#fb0606']]
});

/* ---------- Paired plots ---------- */
function drawPair(g,c){
  const Y=v=>c.ya+(v-c.va)*(c.yb-c.ya)/(c.vb-c.va);
  const box=mk('rect',{x:c.left,y:c.top,width:c.right-c.left,height:c.bottom-c.top,fill:'#fff',stroke:'#555','stroke-width':2.4},g);
  
  
  c.ticks.forEach((v,i)=>{
    const t=mk('line',{x1:c.left-5,x2:c.left,y1:Y(v),y2:Y(v),stroke:'#555','stroke-width':1.6},g);
    
    
    const s=mk('text',{x:c.left-7,y:Y(v)+4.5,'text-anchor':'end','font-size':13,fill:'#444'},g,c.tickLabels[i]);
    
    
  });
  c.control.forEach((v,i)=>{
    const l=mk('line',{x1:c.cx,x2:c.mx,y1:Y(v),y2:Y(c.model[i]),stroke:'#d9d9d9','stroke-width':2.4},g);
    
    
  });
  c.control.forEach(v=>{
    const p=mk('circle',{cx:c.cx,cy:Y(v),r:4.6,fill:'#6fcde8'},g);
    
    
  });
  c.model.forEach(v=>{
    const p=mk('circle',{cx:c.mx,cy:Y(v),r:4.6,fill:'#f0705a'},g);
    
    
  });
  [c.cx,c.mx].forEach(x=>{
    const t=mk('line',{x1:x,x2:x,y1:c.bottom,y2:c.bottom+5,stroke:'#555','stroke-width':1.6},g);
    
    
  });
  const br=mk('path',{d:`M${c.cx} ${c.brY+5}V${c.brY}H${c.mx}V${c.brY+5}`,fill:'none',stroke:'#444','stroke-width':2},g);
  
  
  const st=mk('text',{x:(c.sigX),y:c.sigY,'text-anchor':'middle','font-size':c.sigSize,fill:'#333','font-family':'"Liberation Serif",serif','font-weight':c.sigSize>15?700:400},g,c.sig);
  
  
  c.catX.forEach((x,i)=>{
    const t=mk('text',{x:x,y:c.catY,'text-anchor':'middle','font-size':31,class:'serif',textLength:i?139:96,lengthAdjust:'spacingAndGlyphs'},g,cCategories[i]);
    
    
  });
  const yt=mk('text',{transform:`translate(${c.titleX},${c.titleY}) rotate(-90)`,'text-anchor':'middle','font-size':39,class:'serif',textLength:c.titleLen,lengthAdjust:'spacingAndGlyphs'},g,c.title);
  
  
}
const pairG=document.getElementById('pairC');
drawPair(pairG,{name:'tnf',left:1388,right:1741,top:723,bottom:1017.8,va:8,ya:994.8,vb:16,yb:725.9,cx:1473.6,mx:1652,control:cTnfControl,model:cTnfModel,ticks:cTnfTicks,tickLabels:cTnfTickLabels,brY:741,sig:'*',sigX:1563,sigY:746,sigSize:28,catX:[1475,1661],catY:1047,title:'TNF-α Expression',titleX:1360,titleY:870,titleLen:228});
drawPair(pairG,{name:'rip1',left:1850.3,right:2195,top:723,bottom:1017.8,va:1350,ya:993.3,vb:1700,yb:743.1,cx:1937,mx:2108.7,control:cRip1Control,model:cRip1Model,ticks:cRip1Ticks,tickLabels:cRip1TickLabels,brY:741,sig:'0.11',sigX:2022,sigY:739,sigSize:12,catX:[1934,2120],catY:1047,title:'RIP1 Expression',titleX:1809,titleY:868,titleLen:208});
drawPair(pairG,{name:'rip3',left:1385.3,right:1739.9,top:1073.7,bottom:1368,va:40,ya:1360.8,vb:220,yb:1099.1,cx:1476,mx:1652,control:cRip3Control,model:cRip3Model,ticks:cRip3Ticks,tickLabels:cRip3TickLabels,brY:1092.4,sig:'*',sigX:1564,sigY:1097,sigSize:28,catX:[1476,1662.6],catY:1398,title:'RIP3 Expression',titleX:1353,titleY:1222,titleLen:207});
drawPair(pairG,{name:'mlkl',left:1850.3,right:2195,top:1073.7,bottom:1368,va:300,ya:1350.8,vb:600,yb:1087.1,cx:1939,mx:2114.5,control:cMlklControl,model:cMlklModel,ticks:cMlklTicks,tickLabels:cMlklTickLabels,brY:1092.4,sig:'*',sigX:2030,sigY:1097,sigSize:28,catX:[1938.6,2125],catY:1398,title:'MLKL Expression',titleX:1813,titleY:1220,titleLen:229});

/* ---------- Microscopy (soft painted blobs) ---------- */
const palette={m:'#c828c8',p:'#7a20a0',b:'#2030f0',r:'#f01c1c',g:'#1fb82c',w:'#f0b4e8',o:'#6e3210',G:'#123f16',y:'#a8cc38',R:'#561208',D:'#1424b0',P:'#3c0c58'};
const defaultAlpha={m:.85,p:.85,b:.9,r:.85,g:.55,w:.72,y:.7,o:.9,G:.9,R:.9,D:.9,P:.9};
const defs=document.getElementById('defs');
Object.keys(palette).forEach(k=>{
  const rg=mk('radialGradient',{id:'blob-'+k},defs);
  mk('stop',{offset:0,'stop-color':palette[k],'stop-opacity':1},rg);
  mk('stop',{offset:.5,'stop-color':palette[k],'stop-opacity':.65},rg);
  mk('stop',{offset:1,'stop-color':palette[k],'stop-opacity':0},rg);
});
const microG=document.getElementById('micro');
let clipN=0;
function drawMicro(name,rect,sx,sy,ox,oy,bg,list){
  const id='clip'+(clipN++);
  const cp=mk('clipPath',{id:id},defs);
  mk('rect',{x:rect[0],y:rect[1],width:rect[2],height:rect[3]},cp);
  const g=mk('g',{'clip-path':'url(#'+id+')',style:'isolation:isolate'},microG);
  
  
  const r=mk('rect',{x:rect[0],y:rect[1],width:rect[2],height:rect[3],fill:bg},g);
  
  
  const f=mk('g',{filter:'url(#soft)'},g);
  
  
  const t=mk('g',{transform:`translate(${ox},${oy}) scale(${1/sx},${1/sy})`},f);
  list.trim().split(';').forEach(s=>{
    const q=s.trim().split(/\s+/);
    if(q.length<5)return;
    const e=mk('ellipse',{cx:q[1],cy:q[2],rx:q[3],ry:q[4],fill:'url(#blob-'+q[0]+')',opacity:(q[5]?q[5]*defaultAlpha[q[0]]:defaultAlpha[q[0]]).toFixed(2),style:'mix-blend-mode:screen'},t);
    
    
  });
}
drawMicro('micrograph-p-rip3',[128.4,2555,1007.4,755],1.34,2.01,0,2520,'#060008',
`G 800 700 320 380 .7;G 1250 900 320 320 .7;G 1400 650 220 320 .7;G 1050 1250 380 270 .6;G 1200 300 380 220 .45;G 1000 500 220 220 .6;G 700 1100 250 250 .5;G 700 250 200 200 .4;o 1150 1080 260 260 .6;o 1450 1200 140 320 .6;o 1400 1450 220 220 .6;o 1020 1450 220 160 .45;o 950 1050 120 180 .3;P 300 300 170 170 .6;P 300 800 200 300 .3;P 450 1200 300 300 .35;
r 920 100 28 48;m 620 140 28 52;r 620 120 18 35 .7;w 1175 145 22 40;g 1175 150 52 72;w 720 215 32 48;g 715 215 62 84;m 800 190 20 26;b 845 190 12 30;w 1030 200 30 62 .6;o 1040 240 48 74;m 1270 130 20 36;m 1440 165 16 26;g 1510 190 26 50;m 1270 210 20 32;b 1235 260 8 50;b 1415 295 36 42;m 1290 310 20 32;m 1160 350 24 32;g 1375 375 30 50;w 1375 375 15 25;
w 365 345 42 54;m 350 265 22 32;m 495 350 28 42;w 495 350 12 20;r 850 310 36 82;w 820 345 26 46;m 735 305 22 42;o 735 320 26 52;g 700 370 30 60;m 700 385 16 30;b 1120 320 18 26;b 910 210 15 30;m 380 95 22 30;m 295 90 14 18;b 240 100 14 22;m 560 90 14 22;
r 610 410 22 52;m 655 460 30 42;m 555 465 18 30;g 555 465 30 60;r 215 490 30 62;m 410 485 20 36;m 470 490 26 42;m 300 555 30 52;b 385 550 12 30;b 585 530 26 26;m 715 510 24 52;m 775 455 16 20;m 815 455 16 20;m 865 530 16 42;b 780 525 12 30;b 710 590 12 20;
g 950 410 42 72;w 950 410 22 42;b 950 475 12 15;o 915 480 12 26;b 920 535 10 15;g 980 590 52 110;m 975 590 22 46;r 973 625 16 18;o 930 590 10 30;g 965 790 42 72 .5;o 965 790 30 60;
m 1080 565 20 42;m 1160 510 20 36;r 1295 535 30 52;m 1295 535 15 25;m 1140 630 24 42;g 1235 620 32 62;w 1232 670 30 52;m 1270 705 22 42;r 1218 760 22 42;o 1365 705 16 42;g 1040 680 42 82;m 1050 680 16 26;
y 1475 690 58 84;w 1475 660 30 52;o 1440 600 52 122;g 1500 800 42 82;w 1500 800 20 52;w 1330 870 36 52;g 1325 910 32 52;m 1285 820 14 42;
b 1120 730 10 15;b 1150 480 8 20;b 1385 565 12 20;b 1355 520 12 20;b 1305 605 12 20;b 1090 650 12 20;b 1210 390 12 20;
g 795 640 22 42;b 790 640 14 26;b 855 725 18 42;g 850 730 26 52;m 830 800 22 36;g 825 810 30 52;w 735 735 26 56 .6;m 715 820 26 72 .7;m 685 880 26 42;w 685 880 15 25;g 670 880 36 72;m 670 950 22 42;
b 1200 860 32 26;b 1140 875 26 15;b 1030 900 20 62;b 1030 960 24 52;b 930 1000 36 62;m 970 950 14 32;m 930 900 16 26;m 880 930 16 42;g 880 1130 26 52;
m 1070 1025 20 32;g 1070 1030 32 72;w 1072 1025 15 26;r 1025 1075 26 52;m 1195 1020 26 42;o 1195 1010 32 62;b 1155 1010 12 20;b 1130 1090 12 20;y 1195 1140 8 15;m 1280 1170 24 42;g 1285 1160 36 62;b 1320 1155 12 20;m 1225 1225 16 42;b 1225 1275 10 15;m 1335 1240 14 32;b 1400 1125 10 20;b 1350 1020 10 20;m 1440 950 14 32;m 1395 945 16 32;m 1275 945 12 22;
m 830 1180 14 22;r 1010 1215 32 62;m 985 1240 16 32;b 855 1230 20 62;m 890 1200 16 32;b 820 1130 30 62;m 795 1155 14 22;m 755 1180 14 26;m 700 1175 12 26;w 610 1190 32 66;g 605 1190 42 92;m 660 1065 26 42;m 555 1085 26 42;g 600 995 16 32;m 610 1050 16 32;b 680 1115 12 15;m 700 1025 12 32;m 610 1250 20 32;
r 325 1150 22 62;m 340 1200 24 32;m 470 1115 20 46;r 518 1235 26 62;b 510 1130 10 42;m 505 1015 16 32;m 465 960 16 32;b 460 1190 10 15;m 400 1180 14 22;m 415 1125 14 22;b 395 1040 8 20;m 300 990 20 26;b 295 1015 15 30;m 380 880 22 42;m 260 900 20 32;b 350 795 24 26;b 240 825 20 32;b 325 665 8 15;m 215 705 12 22;b 290 750 12 20;b 430 755 8 25;b 515 720 12 10;b 510 655 10 15;m 520 780 22 36;m 500 830 24 42;b 520 850 26 36;m 615 670 20 36;m 460 690 12 26;b 655 690 12 15;m 190 1195 14 22;b 265 1135 12 15;m 260 1310 16 26;b 215 1265 10 20;m 320 1325 14 22;b 335 1255 10 15;r 375 1385 20 42;m 390 1385 32 42;r 480 1490 22 46;m 480 1475 12 25;m 330 1465 16 22;
w 910 1340 30 42;m 975 1330 20 42;o 1135 1390 36 82;r 1140 1390 32 72;y 1140 1415 8 20;w 910 1460 24 42;g 960 1450 42 52;m 1018 1435 16 26;g 1065 1480 36 62;m 1080 1500 20 26;g 660 1490 32 42;m 660 1505 16 22;r 718 1490 22 42;w 780 1465 36 52 .5;m 815 1320 20 32;b 740 1340 10 15;b 760 1420 20 32;m 600 1505 14 22;b 610 1295 26 22;m 685 1355 16 22;b 490 1385 10 20;m 530 1410 20 32;
m 1430 1300 20 36;g 1430 1300 26 52;r 1370 1340 26 42;b 1495 1330 12 15;b 1280 1390 12 20;m 1480 1375 12 26;b 1330 1205 8 20;m 1460 1080 22 42;m 1500 1090 16 32;b 1455 1105 10 20`);

drawMicro('micrograph-p-mlkl',[1201.8,2555,1008.5,757],1.415,2.01,1170,2520,'#07000f',
`R 1300 250 220 220;R 1400 400 170 220;R 700 150 320 130;R 1000 100 220 100;R 1150 700 150 90;R 950 500 270 130;R 500 350 170 150;R 380 650 130 170;R 250 250 130 100 .7;R 1350 900 170 150;R 950 1250 170 110;R 1100 1050 220 170 .7;R 1000 1000 150 110;o 1050 320 110 100 .6;o 1250 330 110 70 .5;o 450 650 70 140 .5;o 1050 650 130 80 .5;o 1180 780 70 60 .4;o 1000 1280 80 70 .4;o 550 300 100 120 .35;P 600 1100 520 320 .55;P 300 1250 270 320 .55;P 800 1400 520 220 .55;P 1200 1300 320 320 .4;P 200 600 200 300 .3;
m 135 265 14 17;m 295 255 16 20;b 245 342 12 14;b 57 340 12 20;b 105 430 14 22;m 405 420 14 26;b 360 435 14 16;b 485 385 9 11;b 630 412 9 16;m 890 395 14 20;b 742 415 7 16;m 455 430 12 20;b 237 488 12 20;m 258 530 24 32;y 270 485 10 20;g 405 520 16 42;m 385 520 16 26;m 82 605 20 24;m 125 622 18 20;m 237 680 12 14;g 300 730 22 36;w 305 730 13 26;m 425 740 14 17;m 465 715 20 26;g 450 720 42 42;m 452 850 20 26;g 460 840 36 42;b 430 890 8 15;m 70 855 12 20;b 140 880 16 11;m 115 902 16 13;b 205 885 12 16;b 225 932 12 14;m 70 935 16 32 .5;m 130 830 16 32 .5;
m 585 535 20 20;m 688 525 16 20;w 655 650 20 30;g 655 650 32 42;b 535 600 14 20;g 600 860 36 52;w 615 850 16 26;m 570 890 12 16;m 665 885 16 20;b 720 535 11 16;m 595 915 16 16;m 740 660 14 17;
g 740 750 24 32;w 745 750 13 22;g 835 660 26 42;m 840 660 12 24;b 845 703 16 9;g 915 585 32 46;w 913 580 12 22;w 965 630 22 30;m 785 578 16 16;w 1078 635 20 30;g 1075 640 26 42;b 1160 612 16 16;m 1045 685 14 24;g 1235 590 22 42;o 1230 590 12 22;
g 1180 780 46 42;y 1185 780 26 26;w 1220 868 20 30;g 1220 868 32 42;g 1280 790 30 40;w 1285 790 16 16;b 1270 815 11 16;
b 1330 640 11 16;b 1390 705 9 16;b 1455 760 13 26;b 955 780 9 26;b 875 850 9 22;b 965 885 13 16;m 850 915 16 22;m 1095 848 20 22;b 785 855 13 16;
g 630 90 16 26;g 660 95 16 26;m 680 170 16 16;w 755 140 22 20;b 625 140 9 26;m 845 185 22 22;b 1012 115 13 26;m 935 100 12 16;b 975 150 13 11;b 925 208 9 16;g 740 240 9 32;m 822 248 20 16;m 690 310 18 22;g 770 280 11 32;b 947 258 16 20;m 515 305 22 26;g 570 210 9 26;m 530 200 13 16;y 1075 310 52 62;w 1075 310 40 60;m 968 285 16 13;m 1183 310 26 32;w 1200 390 20 26;m 1195 245 20 13;b 1097 205 16 16;b 1210 205 22 22;m 1335 95 20 22;w 1270 405 32 42;y 1285 395 16 32;w 1340 410 26 32;m 1240 370 12 16;m 1148 370 16 13;m 1085 370 12 13;b 1010 373 9 11;b 1090 410 7 11;m 980 465 20 20;m 1020 520 16 22;b 1168 445 9 13;b 1220 505 11 20;b 1395 565 11 9;b 1210 555 9 32;m 1460 485 13 22;m 1460 590 9 20;g 1190 130 32 32;w 1190 130 12 16;g 1130 155 32 22;g 1220 100 13 26;g 1420 125 22 32;
g 540 1065 26 42;b 585 1025 13 16;g 620 1085 22 26;b 675 1065 9 20;m 790 1035 16 20;m 750 1020 13 16;m 955 1060 16 22;m 980 1112 13 16;y 965 1130 8 12;m 1100 1065 9 16;m 1095 1125 11 16;b 1255 1140 9 16;b 1145 1175 11 22;m 842 1180 16 20;m 1018 1220 16 22;g 935 1220 20 42;m 765 1170 16 20;m 910 1275 16 22;g 930 1270 26 42;y 1000 1290 26 22;g 1090 1325 16 36;m 670 1308 16 16;m 655 1240 20 22;b 1180 1225 9 32;b 1320 1270 11 20;b 1320 1335 9 20;b 333 1078 13 16;m 85 1128 13 20;m 245 1140 16 26;m 315 1165 11 22;m 165 1200 16 16;m 155 1235 13 16;b 355 1240 9 22;b 100 1250 13 16;b 90 1295 9 13;b 130 1285 9 13;b 235 1305 22 16;b 462 1275 13 15;b 532 1262 9 15;m 395 1305 16 16;m 340 1320 16 20;m 290 1325 13 16;b 495 1345 9 22;m 574 1367 11 13;b 888 1350 11 16;m 840 1350 13 16;b 830 1310 9 11;m 120 1400 16 26;m 215 1370 13 26;m 410 1385 11 11;b 270 1425 13 13;b 378 1460 13 16;b 675 1385 7 13;m 800 1445 16 22;m 825 1465 11 13;m 295 1485 16 22;m 430 1495 16 22;m 510 1480 16 22;m 1080 1410 16 22;b 1040 1525 16 16;m 960 1510 13 16;b 930 1500 11 16;m 1250 1300 20 22;m 1320 1080 16 26;m 1430 1390 13 16;b 1405 1500 11 22;m 735 1540 11 16;m 615 1550 9 11;b 1330 1020 11 16;b 1370 1010 16 16;b 1390 1160 13 9;m 1140 1100 13 16;m 1170 1090 11 16`);

/* insets: left column */
drawMicro('inset-merge-p-rip3',[128.4,3331.4,190,501.3],1.479,2.703,100,3300,'#0e2410',
`G 180 900 190 640 1;o 90 550 55 130 1;g 165 310 62 135;w 160 300 36 88;b 153 462 26 42;o 80 500 36 92 1;b 93 615 26 52;g 215 700 62 125;w 215 750 56 104 .6;m 210 770 36 84;r 210 860 36 72;o 105 780 32 92 1;y 190 1310 72 104 .5;w 200 1380 32 52 .4;o 100 1370 32 52;P 60 110 30 40`);
drawMicro('inset-tnf-p-rip3',[333,3331.4,189.6,501.3],1.479,2.703,100,3300,'#0a2e0c',
`G 485 800 180 700 1;G 400 400 100 200 .7;g 470 280 64 185 1;g 520 700 74 155 .8;g 500 850 52 105 .6;g 480 1320 62 105 .6;G 420 1200 120 200 .8`);
drawMicro('inset-p-rip3',[537.5,3331.4,191.3,501.3],1.479,2.703,100,3300,'#070000',
`R 700 500 52 135;r 700 500 30 90 .45;r 715 770 36 84 .8;r 815 850 46 92;R 800 800 84 205;R 790 1350 105 105;R 730 1250 155 205 .7;R 860 500 80 300 .3`);
drawMicro('inset-pv-p-rip3',[742.3,3331.4,190.7,501.3],1.479,2.703,100,3300,'#0c0212',
`m 1065 300 42 98;p 995 600 36 72 .8;m 1125 780 52 135 .6;m 1115 820 36 72 .8;p 1100 1370 32 84;P 1190 1010 20 40 .5;P 1120 800 100 220 .5`);
drawMicro('inset-dapi-p-rip3',[946.5,3331.4,189.3,501.3],1.479,2.703,100,3300,'#02020f',
`b 1365 310 36 98;b 1365 470 26 46;b 1302 630 26 52;D 1420 790 52 135;D 1400 300 100 200 .3`);

/* insets: right column */
drawMicro('inset-merge-p-mlkl',[1201.8,3329.6,189.4,501.4],1.441,2.703,1190,3300,'#0a0612',
`G 150 400 140 300 .6;G 190 900 120 200 .5;g 190 640 62 112;m 195 655 32 62;r 195 640 14 30;g 70 310 62 122 .6;o 70 310 60 120 .5;m 58 335 36 52;m 265 310 30 52;g 260 380 32 62 .7;g 100 1200 72 155;y 110 1210 26 72;m 215 1280 32 46;m 60 1380 32 52;m 25 1310 16 42;b 275 710 16 36;P 40 1000 26 52;g 80 1010 40 40 .3`);
drawMicro('inset-tnf-p-mlkl',[1405,3329.6,189.6,501.4],1.441,2.703,1190,3300,'#020e03',
`G 400 300 105 105;G 500 350 84 125;G 450 1000 135 155 .7;g 490 600 60 30 1;g 445 660 22 60 1;g 530 660 22 70 1;g 480 720 50 24 .8;g 370 1240 62 105;g 410 1150 26 42;G 450 680 90 120 .8;G 400 1300 100 120 .8`);
drawMicro('inset-p-mlkl',[1605,3329.6,198.5,501.4],1.441,2.703,1190,3300,'#050000',
`r 645 335 36 52;r 858 300 26 52;r 775 630 46 84 .85;R 775 650 84 155;r 700 1190 52 105 .7;R 690 1240 84 185;R 620 1300 22 84;R 650 360 70 90;R 850 340 60 120`);
drawMicro('inset-pv-p-mlkl',[1814.6,3329.6,197,501.4],1.441,2.703,1190,3300,'#0b0210',
`m 948 345 36 52;m 1155 320 26 52;m 1092 650 42 72 .7;p 1010 1170 42 105;p 1110 1290 32 52;p 915 1290 22 46;p 955 1360 26 62;P 1060 800 90 250 .4;P 1100 400 90 200 .25`);
drawMicro('inset-dapi-p-mlkl',[2021.4,3329.6,190.1,501.4],1.441,2.703,1190,3300,'#01010c',
`b 1240 335 36 46;b 1445 315 26 46;D 1380 650 42 72;D 1300 1160 32 105;D 1210 1290 16 52;D 1240 1370 26 62;b 1450 730 13 26;D 1230 1000 30 60 .5`);

/* arrows */
const overlay=document.getElementById('overlay');
function arrows(list,shape,name){
  list.forEach(t=>{
    const p=mk('polygon',{points:shape,transform:`translate(${t[0]},${t[1]})`,fill:'#fff'},overlay);
    
    
  });
}
arrows([[236.6,3651.5],[440.8,3651.5],[644.3,3651.5],[849.2,3651.5],[1054,3653]],'0,0 -73.7,53.5 -45.3,58.5 -58.8,90.5 -37.2,100.5 -21.6,72.1 0,90.5','inset-arrow');
arrows([[1295.5,3574.5],[1498.8,3574.5],[1700,3574.5],[1908,3574.5],[2115,3574.5]],'0,0 -89.5,16.6 -69.4,31.8 -86.8,51 -70.8,69.5 -53.4,54.6 -39.5,81.4','inset-arrow');
arrows([[723.9,2846],[876.9,3050],[451.5,3153]],'0,0 -35.8,26.4 -23.9,28.4 -28.4,44.8 -16.4,48.3 -11.2,33.3 1.5,44.8','cell-arrow');
arrows([[1329,2803.6],[1360.8,2900.6],[1459.8,2896.6],[1468.2,2961.8],[1616.6,2860.8]],'0,0 -43.8,11 -29.7,19 -40.3,30 -24,40 -15,27 -11,41','cell-arrow');
arrows([[1696.5,2923],[1760,2879],[1816.6,2842.4],[1929.7,2864.8],[2018,2977.7],[2073,2945.4]],'0,0 -31.8,28.4 -19,31.8 -23.3,48.3 -7,48.3 -2,33.3 7,43.3','cell-arrow');
</script>
</body>
</html>
